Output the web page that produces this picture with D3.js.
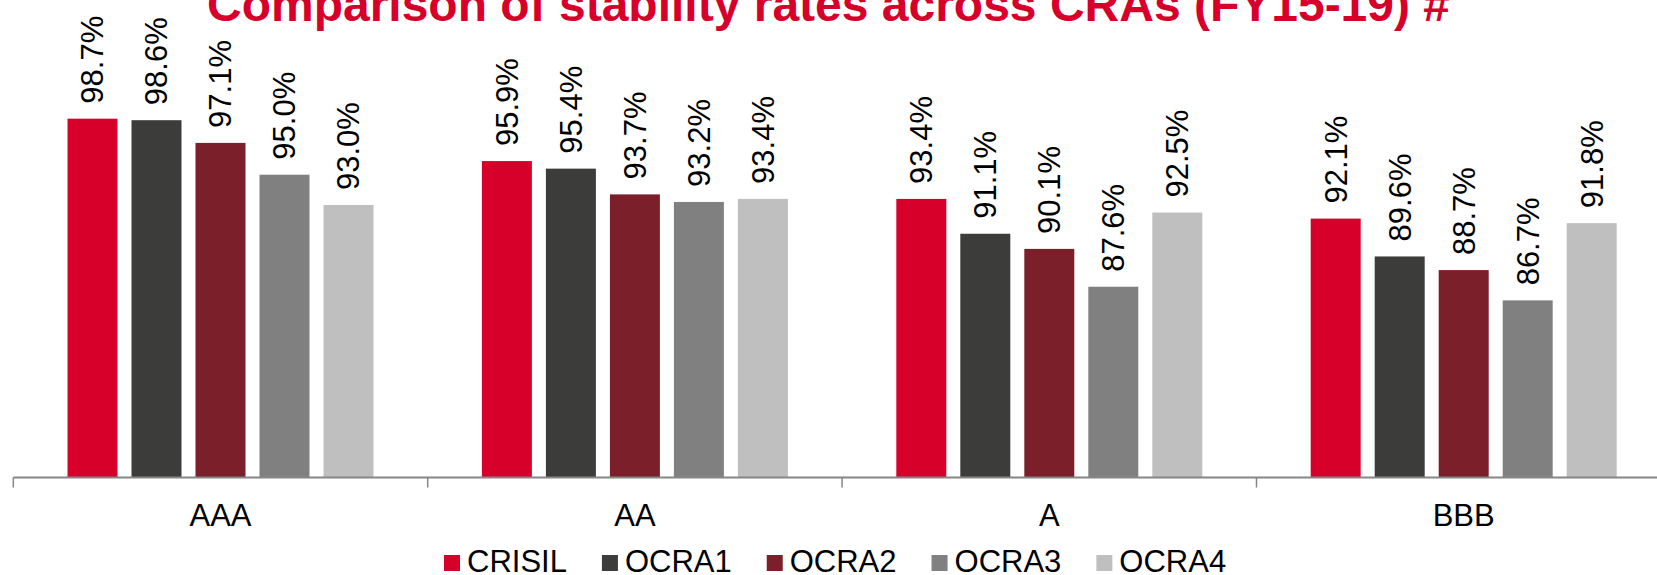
<!DOCTYPE html>
<html>
<head>
<meta charset="utf-8">
<script src="https://cdn.jsdelivr.net/npm/d3@7"></script>
<style>
  body { margin: 0; background: #fff; }
  text { font-family: "Liberation Sans", Arial, sans-serif; }
</style>
</head>
<body>
<div id="chart"></div>
<script>
const categories = ['AAA', 'AA', 'A', 'BBB']
const series_names = ['CRISIL', 'OCRA1', 'OCRA2', 'OCRA3', 'OCRA4']
const crisil = [98.7, 95.9, 93.4, 92.1]
const ocra1 = [98.6, 95.4, 91.1, 89.6]
const ocra2 = [97.1, 93.7, 90.1, 88.7]
const ocra3 = [95.0, 93.2, 87.6, 86.7]
const ocra4 = [93.0, 93.4, 92.5, 91.8]
const series_colors = ['#d7002a', '#3c3c3b', '#7b1f2b', '#808080', '#bfbfbf']

function draw_chart() {
    const width = 1657
    const height = 575
    const values = [crisil, ocra1, ocra2, ocra3, ocra4]

    const svg = d3.select('#chart').append('svg')
        .attr('width', width)
        .attr('height', height)

    const band_w = 414.4
    const x0 = d3.scaleBand().domain(categories)
        .range([13.3, 13.3 + band_w * categories.length])
    const x1 = d3.scaleBand().domain(series_names)
        .range([0, band_w]).paddingInner(0.219).paddingOuter(0.847)
    const y = d3.scaleLinear().domain([75, 100]).range([477.5, 99])

    // title (top is cut off like the original)
    svg.append('text')
        .attr('x', width / 2).attr('y', 21)
        .attr('text-anchor', 'middle')
        .attr('font-size', 48).attr('font-weight', 'bold')
        .attr('fill', '#d7002a')
        .text('Comparison of stability rates across CRAs (FY15-19) #')

    const rows = []
    categories.forEach((c, i) => {
        series_names.forEach((s, j) => rows.push({cat: c, name: s, value: values[j][i], color: series_colors[j]}))
    })

    svg.selectAll('rect.bar').data(rows).join('rect')
        .attr('class', 'bar')
        .attr('x', d => x0(d.cat) + x1(d.name))
        .attr('y', d => y(d.value))
        .attr('width', x1.bandwidth())
        .attr('height', d => y(75) - y(d.value))
        .attr('fill', d => d.color)

    // rotated data labels
    svg.selectAll('text.lbl').data(rows).join('text')
        .attr('class', 'lbl')
        .attr('transform', d => `translate(${x0(d.cat) + x1(d.name) + x1.bandwidth() / 2},${y(d.value) - 15}) rotate(-90)`)
        .attr('dy', '0.35em')
        .attr('font-size', 31)
        .attr('fill', '#000')
        .text(d => d.value.toFixed(1) + '%')

    // x axis
    const axis = svg.append('g').attr('transform', `translate(0,${y(75)})`)
    axis.append('line')
        .attr('x1', x0.range()[0]).attr('x2', width)
        .attr('y1', 0).attr('y2', 0)
        .attr('stroke', '#868686').attr('stroke-width', 1.8)
    axis.selectAll('line.tick').data(categories).join('line')
        .attr('class', 'tick')
        .attr('x1', d => x0(d)).attr('x2', d => x0(d))
        .attr('y1', 0).attr('y2', 10)
        .attr('stroke', '#868686').attr('stroke-width', 1.5)
    axis.selectAll('text').data(categories).join('text')
        .attr('x', d => x0(d) + x0.bandwidth() / 2)
        .attr('y', 48)
        .attr('text-anchor', 'middle')
        .attr('font-size', 31)
        .attr('fill', '#000')
        .text(d => d)

    // legend, laid out from the measured text widths
    const legend = svg.append('g').attr('transform', 'translate(0,555)')
    const items = legend.selectAll('g').data(series_names).join('g')
    items.append('rect')
        .attr('width', 16).attr('height', 16)
        .attr('fill', (d, i) => series_colors[i])
    items.append('text')
        .attr('x', 23).attr('y', 16.5)
        .attr('font-size', 31)
        .attr('fill', '#000')
        .text(d => d)

    let cursor = 444
    items.each(function () {
        const g = d3.select(this)
        g.attr('transform', `translate(${cursor},0)`)
        cursor += 23 + g.select('text').node().getComputedTextLength() + 35
    })
}

draw_chart()
</script>
</body>
</html>
